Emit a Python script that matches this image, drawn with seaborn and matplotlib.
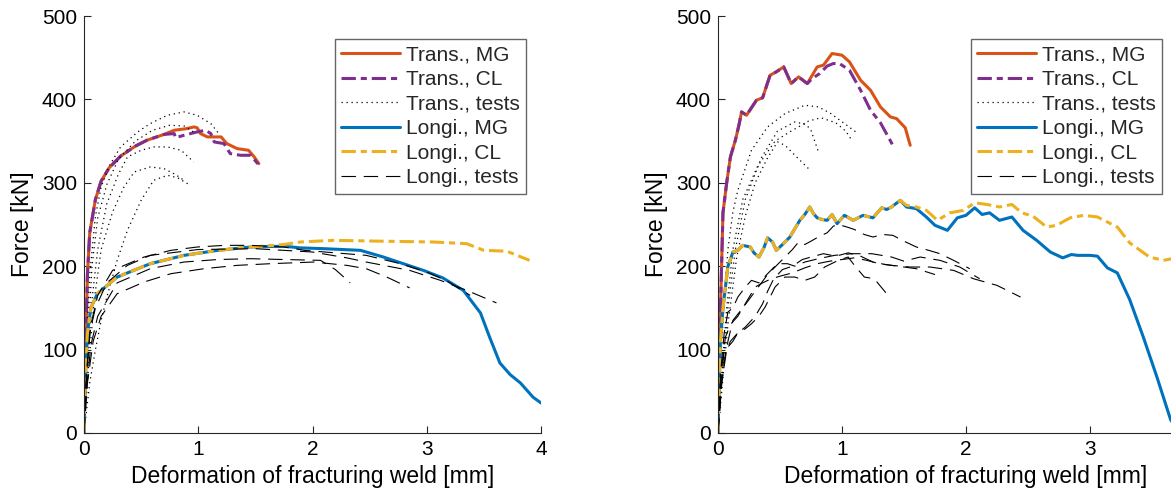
import numpy as np
import matplotlib
matplotlib.use("Agg")
import matplotlib.pyplot as plt
import seaborn as sns

# ---------------- DATA ----------------
# Left panel
L_transMG_x = [0, 0.01, 0.03, 0.05, 0.10, 0.15, 0.22, 0.32, 0.45, 0.55, 0.70, 0.79, 0.90, 0.963, 0.99, 1.02, 1.08, 1.20, 1.25, 1.34, 1.44, 1.49, 1.53]
L_transMG_y = [0, 80, 190, 240, 280, 302, 318, 332, 344, 351, 358, 363, 365, 367, 366, 359, 355, 355, 347, 341, 339, 331, 323]
L_transCL_x = [0, 0.01, 0.03, 0.05, 0.10, 0.15, 0.22, 0.32, 0.45, 0.55, 0.70, 0.79, 0.80, 0.875, 0.99, 1.065, 1.11, 1.14, 1.225, 1.28, 1.37, 1.46, 1.52, 1.53]
L_transCL_y = [0, 80, 190, 240, 280, 302, 318, 332, 344, 351, 358, 359, 354, 357, 361, 363, 359, 349, 347, 335, 333, 333, 323, 319]
L_transT_x = [
    [0, 0.02, 0.05, 0.10, 0.15, 0.22, 0.32, 0.47, 0.58, 0.73, 0.875, 0.99, 1.11, 1.18],
    [0, 0.03, 0.07, 0.12, 0.20, 0.30, 0.45, 0.60, 0.75, 0.88, 0.97],
    [0, 0.03, 0.07, 0.12, 0.20, 0.30, 0.38, 0.50, 0.61, 0.73, 0.85, 0.96],
    [0, 0.04, 0.09, 0.15, 0.25, 0.35, 0.44, 0.58, 0.70, 0.80, 0.875],
    [0, 0.05, 0.10, 0.15, 0.20, 0.29, 0.38, 0.50, 0.61, 0.73, 0.82, 0.93],
]
L_transT_y = [
    [0, 100, 190, 260, 295, 320, 343, 361, 371, 381, 385, 381, 371, 359],
    [0, 100, 200, 258, 298, 328, 350, 363, 369, 368, 360],
    [0, 80, 160, 220, 275, 310, 331, 339, 343, 343, 339, 325],
    [0, 80, 160, 220, 265, 295, 313, 319, 317, 310, 303],
    [0, 60, 100, 135, 163, 207, 243, 279, 303, 309, 306, 297],
]
L_longMG_x = [0, 0.01, 0.03, 0.06, 0.117, 0.29, 0.58, 0.875, 1.17, 1.46, 1.75, 1.89, 2.10, 2.42, 2.62, 2.97, 3.14, 3.32, 3.47, 3.55, 3.64, 3.73, 3.82, 3.93, 4.0]
L_longMG_y = [0, 60, 120, 150, 167, 187, 203, 213, 219, 223, 224, 222, 221, 219, 211, 195, 186, 171, 144, 115, 84, 70, 60, 43, 36]
L_longCL_x = [0, 0.01, 0.03, 0.06, 0.117, 0.29, 0.58, 0.875, 1.17, 1.46, 1.75, 1.89, 2.18, 2.6, 3.06, 3.35, 3.5, 3.7, 3.9]
L_longCL_y = [0, 60, 120, 150, 167, 187, 203, 213, 219, 223, 226, 229, 231, 230, 229, 227, 219, 218, 207]
L_longT_x = [
    [0, 0.02, 0.06, 0.12, 0.25, 0.525, 0.76, 0.99, 1.23, 1.46, 1.75, 1.93, 2.2, 2.47, 2.77, 3.0, 3.17, 3.38],
    [0, 0.02, 0.05, 0.10, 0.20, 0.38, 0.58, 1.0, 1.5, 2.0, 2.3, 2.47, 2.85, 3.12, 3.35, 3.61],
    [0, 0.02, 0.06, 0.12, 0.29, 0.58, 0.875, 1.17, 1.46, 1.75, 2.07, 2.2, 2.33],
    [0, 0.03, 0.08, 0.15, 0.29, 0.525, 0.76, 1.05, 1.34, 1.63, 2.01, 2.3, 2.47, 2.65, 2.85],
]
L_longT_y = [
    [0, 70, 130, 165, 195, 211, 219, 223, 225, 225, 223, 219, 216, 213, 203, 193, 183, 165],
    [0, 60, 120, 150, 180, 201, 213, 220, 221, 217, 210, 205, 195, 183, 171, 156],
    [0, 50, 105, 140, 180, 197, 205, 208, 209, 208, 207, 196, 180],
    [0, 60, 110, 140, 167, 181, 191, 197, 201, 203, 205, 201, 197, 187, 174],
]

# Right panel
R_transMG_x = [0, 0.01, 0.02, 0.04, 0.07, 0.10, 0.14, 0.17, 0.19, 0.23, 0.27, 0.31, 0.36, 0.42, 0.47, 0.53, 0.59, 0.65, 0.72, 0.80, 0.85, 0.92, 1.0, 1.06, 1.15, 1.23, 1.31, 1.39, 1.44, 1.51, 1.55]
R_transMG_y = [0, 80, 150, 264, 300, 331, 351, 370, 385, 381, 390, 399, 402, 429, 433, 439, 419, 427, 419, 439, 441, 455, 453, 445, 423, 411, 391, 379, 377, 366, 345]
R_transCL_x = [0, 0.01, 0.02, 0.04, 0.07, 0.10, 0.14, 0.17, 0.19, 0.23, 0.27, 0.31, 0.36, 0.42, 0.47, 0.53, 0.59, 0.65, 0.72, 0.76, 0.82, 0.88, 0.93, 0.98, 1.06, 1.15, 1.23, 1.31, 1.41]
R_transCL_y = [0, 80, 150, 264, 300, 331, 351, 370, 385, 381, 390, 399, 402, 429, 433, 439, 419, 427, 419, 425, 431, 440, 443, 443, 435, 411, 387, 372, 345]
R_transT_x = [
    [0, 0.02, 0.05, 0.08, 0.12, 0.16, 0.27, 0.40, 0.54, 0.70, 0.81, 0.91, 1.02, 1.13],
    [0, 0.03, 0.07, 0.12, 0.20, 0.32, 0.46, 0.59, 0.73, 0.83, 0.95, 1.03, 1.075],
    [0, 0.03, 0.08, 0.14, 0.22, 0.35, 0.48, 0.62, 0.71, 0.75, 0.81],
    [0, 0.03, 0.08, 0.15, 0.22, 0.30, 0.40, 0.48, 0.54, 0.62, 0.73],
]
R_transT_y = [
    [0, 80, 160, 220, 265, 291, 339, 367, 383, 393, 391, 383, 371, 359],
    [0, 70, 150, 220, 280, 320, 350, 362, 374, 378, 372, 362, 352],
    [0, 60, 150, 220, 280, 330, 362, 373, 370, 363, 337],
    [0, 50, 130, 210, 260, 300, 330, 349, 345, 333, 317],
]
R_longMG_x = [0, 0.01, 0.02, 0.04, 0.06, 0.08, 0.10, 0.12, 0.16, 0.20, 0.26, 0.29, 0.33, 0.37, 0.40, 0.44, 0.47, 0.52, 0.58, 0.62, 0.66, 0.70, 0.74, 0.77, 0.80, 0.84, 0.88, 0.92, 0.96, 1.02, 1.09, 1.17, 1.25, 1.32, 1.36, 1.40, 1.47, 1.52, 1.60, 1.68, 1.75, 1.85, 1.93, 2.0, 2.07, 2.13, 2.19, 2.27, 2.37, 2.46, 2.57, 2.68, 2.78, 2.85, 2.90, 3.0, 3.06, 3.14, 3.22, 3.32, 3.43, 3.54, 3.65, 3.72]
R_longMG_y = [0, 60, 110, 150, 175, 200, 208, 217, 219, 225, 223, 216, 211, 222, 234, 229, 219, 226, 235, 245, 255, 262, 271, 263, 258, 256, 255, 262, 251, 261, 255, 261, 258, 270, 268, 271, 279, 271, 269, 259, 249, 243, 258, 261, 270, 262, 264, 255, 259, 243, 231, 217, 210, 214, 213, 213, 212, 198, 192, 160, 115, 67, 16, 0]
R_longCL_x = [0, 0.01, 0.02, 0.04, 0.06, 0.08, 0.10, 0.12, 0.16, 0.20, 0.26, 0.29, 0.33, 0.37, 0.40, 0.44, 0.47, 0.52, 0.58, 0.62, 0.66, 0.70, 0.74, 0.77, 0.80, 0.84, 0.88, 0.92, 0.96, 1.02, 1.09, 1.17, 1.25, 1.32, 1.36, 1.40, 1.47, 1.52, 1.60, 1.68, 1.77, 1.87, 1.98, 2.07, 2.17, 2.27, 2.37, 2.45, 2.54, 2.65, 2.73, 2.84, 2.95, 3.06, 3.22, 3.32, 3.48, 3.59, 3.70, 3.85, 4.0]
R_longCL_y = [0, 60, 110, 150, 175, 200, 208, 217, 219, 225, 223, 216, 211, 222, 234, 229, 219, 226, 235, 245, 255, 262, 271, 263, 258, 256, 255, 262, 251, 261, 255, 261, 258, 270, 268, 271, 279, 273, 271, 267, 255, 264, 267, 276, 274, 271, 274, 264, 260, 247, 249, 258, 261, 259, 247, 228, 211, 207, 210, 214, 214]
R_longT_x = [
    [0, 0.03, 0.08, 0.12, 0.20, 0.30, 0.40, 0.50, 0.60, 0.65, 0.70, 0.75, 0.82, 0.88, 0.93, 0.97, 1.04, 1.10, 1.18, 1.25, 1.33, 1.41, 1.50, 1.60, 1.70, 1.79, 1.90, 2.03],
    [0, 0.02, 0.05, 0.08, 0.12, 0.16, 0.22, 0.27, 0.33, 0.40, 0.48, 0.56, 0.62, 0.70, 0.81, 0.94, 1.08, 1.24, 1.40, 1.50, 1.63, 1.79, 1.95, 2.11],
    [0, 0.03, 0.06, 0.10, 0.16, 0.24, 0.30, 0.36, 0.43, 0.50, 0.60, 0.70, 0.80, 0.90, 1.0, 1.10, 1.20, 1.30, 1.40, 1.55, 1.71, 1.90, 2.06, 2.25, 2.44],
    [0, 0.03, 0.06, 0.10, 0.16, 0.22, 0.27, 0.33, 0.38, 0.46, 0.54, 0.62, 0.70, 0.78, 0.86, 0.97, 1.05, 1.10, 1.18, 1.26, 1.36],
    [0, 0.02, 0.05, 0.08, 0.12, 0.16, 0.22, 0.30, 0.36, 0.40, 0.45, 0.52, 0.60, 0.68, 0.75, 0.85, 0.95, 1.05, 1.15, 1.25, 1.35, 1.45, 1.60, 1.75],
]
R_longT_y = [
    [0, 60, 110, 135, 150, 170, 190, 205, 220, 229, 226, 230, 236, 240, 248, 250, 247, 244, 238, 235, 238, 237, 230, 223, 219, 215, 207, 197],
    [0, 70, 120, 145, 150, 163, 175, 183, 180, 191, 203, 203, 200, 205, 209, 213, 215, 215, 211, 206, 211, 207, 199, 185],
    [0, 80, 115, 130, 140, 160, 175, 180, 185, 188, 192, 198, 203, 206, 208, 210, 207, 203, 201, 199, 199, 195, 185, 177, 163],
    [0, 60, 95, 110, 120, 125, 131, 140, 151, 175, 187, 187, 183, 187, 199, 207, 211, 201, 187, 185, 167],
    [0, 50, 100, 103, 110, 120, 127, 140, 155, 170, 185, 196, 200, 208, 211, 215, 212, 216, 212, 205, 202, 200, 197, 190],
]

labels = ["Trans., MG", "Trans., CL", "Trans., tests", "Longi., MG", "Longi., CL", "Longi., tests"]
x_ticks_left = [0, 1, 2, 3, 4]
x_ticks_right = [0, 1, 2, 3]   # the 4 lies beyond the figure edge in the reference
y_ticks = [0, 100, 200, 300, 400, 500]

# ---------------- STYLE ----------------
sns.set_theme(style="white")
plt.rcParams["font.family"] = ["Liberation Sans", "DejaVu Sans"]
C_ORANGE, C_PURPLE, C_BLUE, C_YELLOW = "#D95319", "#7E2F8E", "#0072BD", "#EDB120"
AX_COL = "#262626"
DASHDOT = (0, (4.7, 1.6, 2.0, 1.6))
DASHED = (0, (13, 7))
DOTTED = (0, (1, 3))

fig = plt.figure(figsize=(11.71, 5.0), dpi=100)
axL = fig.add_axes([84 / 1171, 67 / 500, 457 / 1171, 417 / 500])
axR = fig.add_axes([718 / 1171, 67 / 500, 496 / 1171, 417 / 500])


def line(ax, xs, ys, **kw):
    sns.lineplot(x=xs, y=ys, ax=ax, estimator=None, sort=False, **kw)


def panel(ax, tMGx, tMGy, tCLx, tCLy, tTx, tTy, lMGx, lMGy, lCLx, lCLy, lTx, lTy, leg_x, xt):
    line(ax, tMGx, tMGy, color=C_ORANGE, linewidth=2.2, label=labels[0])
    line(ax, tCLx, tCLy, color=C_PURPLE, linewidth=2.2, linestyle=DASHDOT, label=labels[1])
    for i, (xs, ys) in enumerate(zip(tTx, tTy)):
        line(ax, xs, ys, color="black", linewidth=0.9, linestyle=DOTTED,
             label=labels[2] if i == 0 else "_nolegend_")
    line(ax, lMGx, lMGy, color=C_BLUE, linewidth=2.2, label=labels[3])
    line(ax, lCLx, lCLy, color=C_YELLOW, linewidth=2.2, linestyle=DASHDOT, label=labels[4])
    for i, (xs, ys) in enumerate(zip(lTx, lTy)):
        line(ax, xs, ys, color="black", linewidth=0.8, linestyle=DASHED,
             label=labels[5] if i == 0 else "_nolegend_")

    ax.set_xlim(0, 4)
    ax.set_ylim(0, 500)
    ax.set_xticks(xt)
    ax.set_yticks(y_ticks)
    ax.set_xlabel("Deformation of fracturing weld [mm]", fontsize=16.5, color="black", labelpad=4)
    ax.set_ylabel("Force [kN]", fontsize=16.5, color="black", labelpad=6)
    ax.tick_params(direction="in", length=5, width=0.8, colors=AX_COL, labelsize=15,
                   labelcolor="black", left=True, bottom=True, pad=5)
    for s in ["top", "right"]:
        ax.spines[s].set_visible(False)
    for s in ["left", "bottom"]:
        ax.spines[s].set_color(AX_COL)
        ax.spines[s].set_linewidth(0.8)

    handles, labs = ax.get_legend_handles_labels()
    if ax.get_legend() is not None:
        ax.get_legend().remove()
    leg = ax.legend(handles, labs, loc="upper right", bbox_to_anchor=(leg_x, 0.945),
                    borderaxespad=0, fontsize=15, frameon=True, fancybox=False,
                    framealpha=1, edgecolor="#666666", handlelength=2.8,
                    handletextpad=0.3, labelspacing=0.27, borderpad=0.3)
    leg.get_frame().set_linewidth(1.0)


panel(axL, L_transMG_x, L_transMG_y, L_transCL_x, L_transCL_y, L_transT_x, L_transT_y,
      L_longMG_x, L_longMG_y, L_longCL_x, L_longCL_y, L_longT_x, L_longT_y, 0.967, x_ticks_left)
panel(axR, R_transMG_x, R_transMG_y, R_transCL_x, R_transCL_y, R_transT_x, R_transT_y,
      R_longMG_x, R_longMG_y, R_longCL_x, R_longCL_y, R_longT_x, R_longT_y, 0.895, x_ticks_right)

fig.savefig("out.png", dpi=100)
